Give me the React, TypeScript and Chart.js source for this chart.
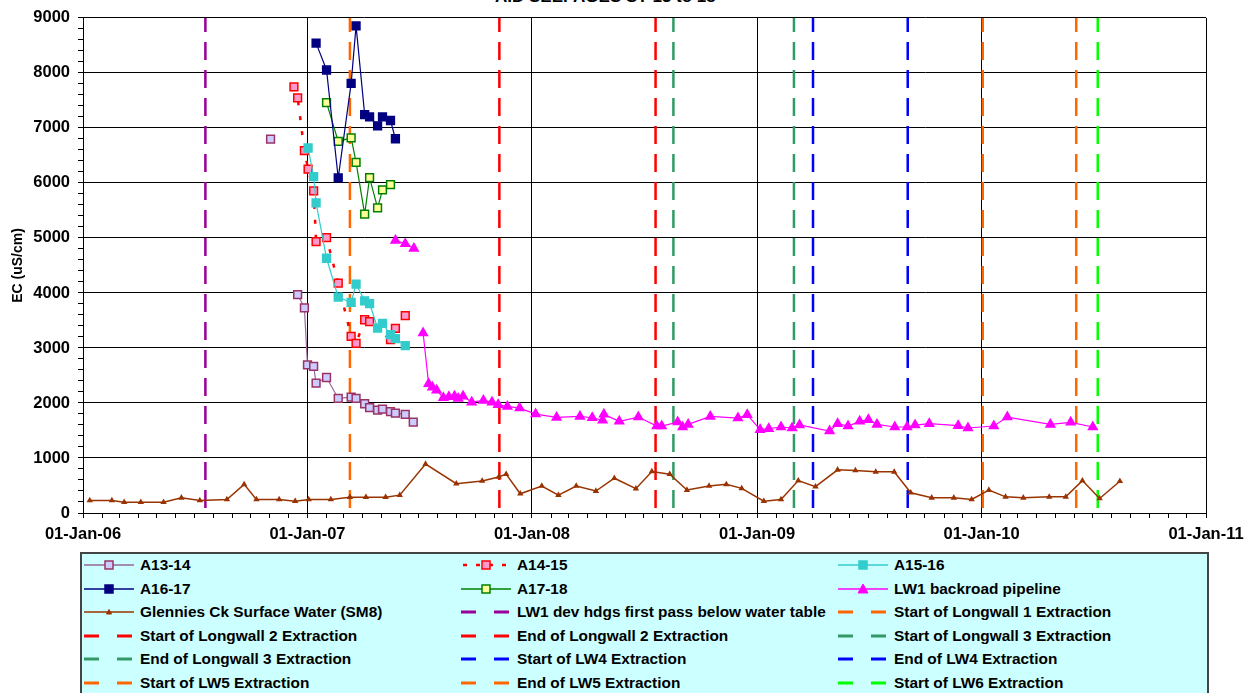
import React, { useEffect, useRef } from 'react';
import { Chart, registerables } from 'chart.js';
Chart.register(...registerables);

// ---------- DATA ----------
const TITLE = 'AID SEEPAGES ST 13 to 18';
const Y_TITLE = 'EC (uS/cm)';
const X_TICK_LABELS = ['01-Jan-06', '01-Jan-07', '01-Jan-08', '01-Jan-09', '01-Jan-10', '01-Jan-11'];
const Y_TICK_LABELS = [0, 1000, 2000, 3000, 4000, 5000, 6000, 7000, 8000, 9000];
const X_MIN = '2006-01-01';
const X_MAX = '2011-01-01';

const A13_14_DATES = ['2006-11-02', '2006-12-01', '2006-12-16', '2006-12-27', '2007-01-01', '2007-01-11', '2007-01-15', '2007-02-01', '2007-02-20', '2007-03-13', '2007-03-21', '2007-04-04', '2007-04-12', '2007-04-25', '2007-05-03', '2007-05-16', '2007-05-24', '2007-06-09', '2007-06-22'];
const A13_14_VALUES = [6797, null, 3971, 3730, 2692, 2667, 2360, 2463, 2082, 2107, 2082, 1986, 1914, 1871, 1889, 1841, 1816, 1793, 1653];

const A14_15_DATES = ['2006-12-10', '2006-12-16', '2006-12-27', '2007-01-02', '2007-01-11', '2007-01-15', '2007-02-01', '2007-02-20', '2007-03-13', '2007-03-21', '2007-04-04', '2007-04-12', '2007-05-16', '2007-05-24', '2007-06-09'];
const A14_15_VALUES = [7745, 7546, 6586, 6253, 5855, 4932, 5004, 4178, 3211, 3084, 3513, 3477, 3151, 3356, 3586];

const A15_16_DATES = ['2007-01-02', '2007-01-11', '2007-01-15', '2007-02-01', '2007-02-20', '2007-03-13', '2007-03-21', '2007-04-04', '2007-04-12', '2007-04-25', '2007-05-03', '2007-05-16', '2007-05-24', '2007-06-09'];
const A15_16_VALUES = [6635, 6116, 5638, 4631, 3924, 3827, 4160, 3857, 3808, 3362, 3446, 3242, 3169, 3042];

const A16_17_DATES = ['2007-01-15', '2007-02-01', '2007-02-20', '2007-03-13', '2007-03-21', '2007-04-04', '2007-04-12', '2007-04-25', '2007-05-03', '2007-05-16', '2007-05-24'];
const A16_17_VALUES = [8542, 8053, 6090, 7810, 8855, 7243, 7201, 7039, 7201, 7135, 6803];

const A17_18_DATES = ['2007-02-01', '2007-02-20', '2007-03-13', '2007-03-21', '2007-04-04', '2007-04-12', '2007-04-25', '2007-05-03', '2007-05-16'];
const A17_18_VALUES = [7460, 6755, 6820, 6375, 5433, 6095, 5547, 5873, 5970];

const LW1_DATES = ['2007-05-24', '2007-06-09', '2007-06-23', '2007-07-01', '2007-07-08', '2007-07-17', '2007-07-23', '2007-07-30', '2007-08-10', '2007-08-19', '2007-08-28', '2007-09-03', '2007-09-11', '2007-09-25', '2007-10-14', '2007-10-28', '2007-11-07', '2007-11-22', '2007-12-12', '2008-01-07', '2008-02-10', '2008-03-19', '2008-04-08', '2008-04-25', '2008-04-27', '2008-05-22', '2008-06-22', '2008-07-22', '2008-07-30', '2008-08-25', '2008-09-02', '2008-09-11', '2008-10-17', '2008-12-01', '2008-12-16', '2009-01-06', '2009-01-20', '2009-02-09', '2009-02-27', '2009-03-11', '2009-04-29', '2009-05-12', '2009-05-29', '2009-06-17', '2009-07-01', '2009-07-15', '2009-08-13', '2009-09-02', '2009-09-15', '2009-10-08', '2009-11-24', '2009-12-10', '2010-01-21', '2010-02-12', '2010-04-23', '2010-05-26', '2010-07-01'];
const LW1_VALUES = [4955, 4894, 4810, null, 3271, 2348, 2287, 2233, 2094, 2112, 2123, 2082, 2123, 2015, 2046, 2015, 1968, 1937, 1907, 1798, 1738, 1756, 1732, 1684, 1793, 1666, 1744, 1581, 1581, 1653, 1563, 1611, 1756, 1725, 1787, 1515, 1533, 1563, 1545, 1600, 1490, 1624, 1581, 1666, 1696, 1611, 1563, 1563, 1599, 1624, 1588, 1545, 1581, 1744, 1611, 1648, 1563];

const SM8_DATES = ['2006-01-12', '2006-02-17', '2006-03-09', '2006-04-05', '2006-05-12', '2006-06-10', '2006-07-10', '2006-08-23', '2006-09-20', '2006-10-10', '2006-11-16', '2006-12-12', '2007-01-03', '2007-02-08', '2007-03-11', '2007-04-06', '2007-05-08', '2007-05-31', '2007-07-12', '2007-08-31', '2007-10-12', '2007-11-08', '2007-11-20', '2007-12-13', '2008-01-17', '2008-02-13', '2008-03-13', '2008-04-14', '2008-05-14', '2008-06-18', '2008-07-14', '2008-08-12', '2008-09-09', '2008-10-15', '2008-11-12', '2008-12-07', '2009-01-12', '2009-02-09', '2009-03-09', '2009-04-06', '2009-05-12', '2009-06-10', '2009-07-13', '2009-08-12', '2009-09-08', '2009-10-12', '2009-11-17', '2009-12-16', '2010-01-13', '2010-02-09', '2010-03-10', '2010-04-21', '2010-05-18', '2010-06-14', '2010-07-12', '2010-08-14'];
const SM8_VALUES = [227, 227, 196, 196, 196, 276, 227, 245, 521, 245, 245, 215, 245, 245, 288, 288, 288, 325, 890, 534, 583, 656, 706, 350, 491, 325, 491, 399, 632, 442, 755, 706, 417, 491, 521, 448, 215, 245, 589, 479, 785, 773, 748, 748, 368, 276, 276, 245, 417, 294, 276, 294, 294, 589, 264, 577];

const EVENT_LABELS = ['LW1 dev hdgs first pass below water table', 'Start of Longwall 1 Extraction', 'Start of Longwall 2 Extraction', 'End of Longwall 2 Extraction', 'Start of Longwall 3 Extraction', 'End of Longwall 3 Extraction', 'Start of LW4 Extraction', 'End of LW4 Extraction', 'Start of LW5 Extraction', 'End of LW5 Extraction', 'Start of LW6 Extraction'];
const EVENT_DATES = ['2006-07-19', '2007-03-11', '2007-11-09', '2008-07-20', '2008-08-18', '2009-03-02', '2009-04-02', '2009-09-03', '2010-01-03', '2010-06-04', '2010-07-09'];

// ---------- STYLES ----------
const EVENT_COLORS = ['#990099', '#FF6600', '#FF0000', '#FF0000', '#339966', '#339966', '#0000FF', '#0000FF', '#FF6600', '#FF6600', '#00FF00'];
const FONT = "'Liberation Sans', Arial, sans-serif";

type SeriesStyle = { label: string; line: string; fill: string; stroke: string; shape: string; r: number; width: number; dash?: number[] };

const SERIES_STYLE: Record<string, SeriesStyle> = {
  A13: { label: 'A13-14', line: '#996699', fill: '#CCCCFF', stroke: '#993366', shape: 'rect', r: 5.5, width: 1.2 },
  A14: { label: 'A14-15', line: '#FF0000', fill: '#FF99CC', stroke: '#FF0000', shape: 'rect', r: 5.5, width: 2.5, dash: [4, 11] },
  A15: { label: 'A15-16', line: '#33CCCC', fill: '#33CCCC', stroke: '#33CCCC', shape: 'rect', r: 5.5, width: 1.2 },
  A16: { label: 'A16-17', line: '#000080', fill: '#000080', stroke: '#000080', shape: 'rect', r: 5.5, width: 1.2 },
  A17: { label: 'A17-18', line: '#008000', fill: '#FFFF99', stroke: '#008000', shape: 'rect', r: 5.5, width: 1.2 },
  LW1: { label: 'LW1 backroad pipeline', line: '#FF00FF', fill: '#FF00FF', stroke: '#FF00FF', shape: 'triangle', r: 5, width: 1.2 },
  SM8: { label: 'Glennies Ck Surface Water (SM8)', line: '#993300', fill: '#993300', stroke: '#993300', shape: 'triangle', r: 2.2, width: 1.5 },
};

const day = (s: string) => Date.UTC(+s.slice(0, 4), +s.slice(5, 7) - 1, +s.slice(8, 10)) / 86400000;
const mk = (dates: string[], values: (number | null)[]) => dates.map((d, i) => ({ x: day(d), y: values[i] }));

function seriesDataset(key: string, dates: string[], values: (number | null)[]) {
  const s = SERIES_STYLE[key];
  return {
    label: s.label,
    data: mk(dates, values),
    borderColor: s.line,
    borderWidth: s.width,
    borderDash: s.dash || [],
    pointStyle: s.shape,
    pointRadius: s.r,
    pointBackgroundColor: s.fill,
    pointBorderColor: s.stroke,
    pointBorderWidth: 1.5,
    fill: false,
    tension: 0,
    spanGaps: false,
  };
}

function LegendSymbol({ line, dash, shape, fill, stroke, width, event }: any) {
  if (event) {
    return (
      <svg width={50} height={14} style={{ display: 'block' }}>
        <line x1={0} y1={7} x2={50} y2={7} stroke={line} strokeWidth={3} strokeDasharray="15 18" />
      </svg>
    );
  }
  const cx = 25, cy = 7;
  let marker: any = null;
  if (shape === 'rect') {
    marker = <rect x={cx - 4} y={cy - 4} width={8} height={8} fill={fill} stroke={stroke} strokeWidth={1.5} />;
  } else {
    const r = shape === 'triangle' && width > 1.4 ? 2.5 : 5;
    marker = <polygon points={`${cx},${cy - r} ${cx + r},${cy + r * 0.8} ${cx - r},${cy + r * 0.8}`} fill={fill} stroke={stroke} strokeWidth={1} />;
  }
  return (
    <svg width={50} height={14} style={{ display: 'block' }}>
      <line x1={0} y1={7} x2={50} y2={7} stroke={line} strokeWidth={dash ? 2.5 : 1.5} strokeDasharray={dash ? '4 9' : undefined} strokeDashoffset={dash ? -2 : 0} />
      {marker}
    </svg>
  );
}

export default function App() {
  const canvasRef = useRef<HTMLCanvasElement | null>(null);

  useEffect(() => {
    if (!canvasRef.current) return;
    const xMin = day(X_MIN);
    const xMax = day(X_MAX);
    const monthTicks: number[] = [];
    for (let y = 2006; y <= 2011; y++) {
      for (let m = 0; m < 12; m++) {
        const v = Date.UTC(y, m, 1) / 86400000;
        if (v >= xMin && v <= xMax) monthTicks.push(v);
      }
    }
    const yTicks: number[] = [];
    for (let v = 0; v <= 9000; v += 200) yTicks.push(v);
    const isJan = (v: number) => new Date(v * 86400000).getUTCMonth() === 0 && new Date(v * 86400000).getUTCDate() === 1;
    const yearIndex = (v: number) => new Date(v * 86400000).getUTCFullYear() - 2006;

    const eventDatasets = EVENT_LABELS.map((label, i) => ({
      label,
      data: [{ x: day(EVENT_DATES[i]), y: 9000 }, { x: day(EVENT_DATES[i]), y: 0 }],
      borderColor: EVENT_COLORS[i],
      borderWidth: 2.5,
      borderDash: [18, 10],
      borderDashOffset: 4,
      pointRadius: 0,
      fill: false,
    }));

    const chart = new Chart(canvasRef.current, {
      type: 'line',
      data: {
        datasets: [
          seriesDataset('A16', A16_17_DATES, A16_17_VALUES),
          seriesDataset('A15', A15_16_DATES, A15_16_VALUES),
          seriesDataset('A17', A17_18_DATES, A17_18_VALUES),
          seriesDataset('A14', A14_15_DATES, A14_15_VALUES),
          seriesDataset('A13', A13_14_DATES, A13_14_VALUES),
          seriesDataset('LW1', LW1_DATES, LW1_VALUES),
          seriesDataset('SM8', SM8_DATES, SM8_VALUES),
          ...eventDatasets,
        ] as any,
      },
      options: {
        animation: false,
        responsive: false,
        devicePixelRatio: 1,
        layout: { padding: { top: 16, right: 49, left: 0, bottom: 0 } },
        plugins: { legend: { display: false }, tooltip: { enabled: false }, title: { display: false } },
        scales: {
          x: {
            type: 'linear',
            min: xMin,
            max: xMax,
            afterBuildTicks: (s: any) => { s.ticks = monthTicks.map((v) => ({ value: v })); },
            afterFit: (s: any) => { s.height = 37; },
            ticks: {
              autoSkip: false,
              maxRotation: 0,
              minRotation: 0,
              padding: 7,
              color: '#000',
              font: { family: FONT, size: 16.5, weight: 'bold' },
              callback: (v: any) => (isJan(v) ? X_TICK_LABELS[yearIndex(v)] : ''),
            },
            grid: {
              color: (ctx: any) => (ctx.tick && isJan(ctx.tick.value) ? '#000' : 'rgba(0,0,0,0)'),
              tickColor: '#000',
              tickLength: 5,
              lineWidth: 1,
            },
            border: { color: '#000', width: 1 },
          },
          y: {
            type: 'linear',
            min: 0,
            max: 9000,
            afterBuildTicks: (s: any) => { s.ticks = yTicks.map((v) => ({ value: v })); },
            afterFit: (s: any) => { s.width = 83; },
            ticks: {
              autoSkip: false,
              padding: 8,
              color: '#000',
              font: { family: FONT, size: 16.5, weight: 'bold' },
              callback: (v: any) => (Y_TICK_LABELS.includes(v) ? String(v) : ''),
            },
            grid: {
              color: (ctx: any) => (ctx.tick && Y_TICK_LABELS.includes(ctx.tick.value) ? '#000' : 'rgba(0,0,0,0)'),
              tickColor: '#000',
              tickLength: 5,
              lineWidth: 1,
            },
            border: { color: '#000', width: 1 },
            title: {
              display: true,
              text: Y_TITLE,
              color: '#000',
              font: { family: FONT, size: 14, weight: 'bold' },
              padding: { top: 10, bottom: 0 },
            },
          },
        },
      } as any,
    });
    return () => chart.destroy();
  }, []);

  const legendItems: any[] = [
    { ...SERIES_STYLE.A13 },
    { ...SERIES_STYLE.A14 },
    { ...SERIES_STYLE.A15 },
    { ...SERIES_STYLE.A16 },
    { ...SERIES_STYLE.A17 },
    { ...SERIES_STYLE.LW1 },
    { ...SERIES_STYLE.SM8 },
    ...EVENT_LABELS.map((label, i) => ({ label, line: EVENT_COLORS[i], event: true })),
  ];
  const colLefts = [84, 461, 838];

  return (
    <div style={{ position: 'absolute', left: 0, top: 0, width: 1255, height: 693, overflow: 'hidden', background: '#fff', fontFamily: FONT }}>
      <div style={{ position: 'absolute', left: 495, top: -12, fontSize: 17, fontWeight: 'bold', whiteSpace: 'nowrap', lineHeight: '17px', color: '#000' }}>{TITLE}</div>
      <canvas ref={canvasRef} width={1255} height={550} style={{ position: 'absolute', left: 0, top: 0, width: 1255, height: 550 }} />
      <div style={{ position: 'absolute', left: 80, top: 552, width: 1125, height: 200, background: '#CCFFFF', border: '2px solid #444' }} />
      {legendItems.map((it, i) => {
        const row = Math.floor(i / 3);
        const col = i % 3;
        const cy = 565 + row * 23.6;
        return (
          <div key={i} style={{ position: 'absolute', left: colLefts[col], top: cy - 10, height: 20, display: 'flex', alignItems: 'center', whiteSpace: 'nowrap' }}>
            <LegendSymbol {...it} />
            <span style={{ marginLeft: 6, fontSize: 15.4, fontWeight: 'bold', color: '#000', lineHeight: '20px' }}>{it.label}</span>
          </div>
        );
      })}
    </div>
  );
}
